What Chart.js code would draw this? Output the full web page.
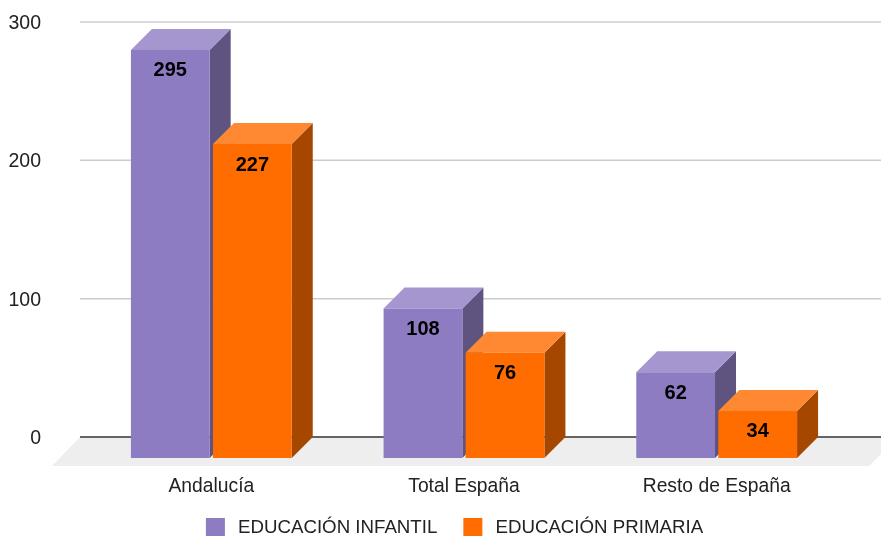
<!DOCTYPE html>
<html>
<head>
<meta charset="utf-8">
<title>Educación</title>
<style>
  html, body { margin: 0; padding: 0; background: #fff; }
  canvas { display: block; }
</style>
<script src="https://cdn.jsdelivr.net/npm/chart.js@4"></script>
</head>
<body>
<canvas id="chart" width="881" height="536"></canvas>
<script>
  const categories = ['Andalucía', 'Total España', 'Resto de España'];
  const infantil = [295, 108, 62];
  const primaria = [227, 76, 34];
  const yTicks = [0, 100, 200, 300];

  const DEPTH = 21; // how far the back of each bar sits from its front
  const font = 'Liberation Sans, Arial, sans-serif';

  // Side and top colours of the 3D boxes, front colour comes from the dataset
  const faces = {
    '#8e7cc3': { top: '#a596cf', side: '#5f5380' },
    '#ff6d01': { top: '#ff8833', side: '#a64700' }
  };

  function fillPoly(ctx, color, pts) {
    ctx.fillStyle = color;
    ctx.beginPath();
    pts.forEach((p, i) => i ? ctx.lineTo(p[0], p[1]) : ctx.moveTo(p[0], p[1]));
    ctx.closePath();
    ctx.fill();
  }

  // Floor, grid lines and the box faces, all behind the bar fronts
  const backdrop = {
    id: 'backdrop',
    afterLayout(chart) {
      // the legend sits right of centre and hard against the bottom edge
      chart.legend.left += 33;
      chart.legend.right += 33;
      chart.legend.top -= 6;
      chart.legend.bottom -= 6;
    },
    beforeDatasetsDraw(chart) {
      const ctx = chart.ctx;
      const y = chart.scales.y;
      const floorTop = y.getPixelForValue(0);
      const floorBottom = chart.chartArea.bottom + 8;
      const left = 80, right = chart.width;

      ctx.save();
      fillPoly(ctx, '#eeeeee', [
        [left, floorTop], [right + 17, floorTop],
        [right - 12, floorBottom], [left - 28, floorBottom]
      ]);

      yTicks.forEach(v => {
        const py = y.getPixelForValue(v);
        ctx.strokeStyle = v === 0 ? '#333333' : '#cccccc';
        ctx.lineWidth = 1.5;
        ctx.beginPath();
        ctx.moveTo(left, py);
        ctx.lineTo(right, py);
        ctx.stroke();
      });

      chart.data.datasets.forEach((ds, i) => {
        const colors = faces[ds.backgroundColor];
        chart.getDatasetMeta(i).data.forEach(bar => {
          const x0 = bar.x - bar.width / 2;
          const x1 = bar.x + bar.width / 2;
          fillPoly(ctx, colors.side, [
            [x1, bar.y], [x1 + DEPTH, bar.y - DEPTH],
            [x1 + DEPTH, bar.base - DEPTH], [x1, bar.base]
          ]);
          fillPoly(ctx, colors.top, [
            [x0, bar.y], [x0 + DEPTH, bar.y - DEPTH],
            [x1 + DEPTH, bar.y - DEPTH], [x1, bar.y]
          ]);
        });
      });
      ctx.restore();
    },
    afterDatasetsDraw(chart) {
      const ctx = chart.ctx;
      ctx.save();
      ctx.font = 'bold 20px ' + font;
      ctx.fillStyle = '#000000';
      ctx.textAlign = 'center';
      ctx.textBaseline = 'middle';
      chart.data.datasets.forEach((ds, i) => {
        chart.getDatasetMeta(i).data.forEach((bar, j) => {
          ctx.fillText(ds.data[j], bar.x, bar.y + 21);
        });
      });
      ctx.restore();
    }
  };

  new Chart(document.getElementById('chart'), {
    type: 'bar',
    data: {
      labels: categories,
      datasets: [
        { label: 'EDUCACIÓN INFANTIL', data: infantil, backgroundColor: '#8e7cc3', yAxisID: 'front' },
        { label: 'EDUCACIÓN PRIMARIA', data: primaria, backgroundColor: '#ff6d01', yAxisID: 'front' }
      ]
    },
    plugins: [backdrop],
    options: {
      responsive: false,
      animation: false,
      categoryPercentage: 0.6495,
      barPercentage: 0.96,
      layout: { padding: { top: 22, right: 38, bottom: -17, left: 0 } },
      scales: {
        x: {
          grid: { display: false },
          border: { display: false },
          ticks: { color: '#222222', padding: 9, font: { family: font, size: 19.3 } },
          afterFit: scale => { scale.height = 40; scale.paddingLeft = scale.paddingRight = 0; }
        },
        // labelled axis, on the back wall of the chart
        y: {
          position: 'left',
          min: -15.2,
          max: 300,
          grid: { display: false },
          border: { display: false },
          ticks: { color: '#222222', padding: 36, labelOffset: 1.5, font: { family: font, size: 19.5 } },
          afterBuildTicks: scale => { scale.ticks = yTicks.map(value => ({ value })); },
          afterFit: scale => {
            scale.width = 85;
            scale.paddingTop = scale.paddingBottom = 0;
          }
        },
        // same px per unit as y, but the bars stand 21px further forward
        front: {
          display: false,
          min: 0,
          max: 315.2
        }
      },
      plugins: {
        tooltip: { enabled: false },
        legend: {
          position: 'bottom',
          labels: {
            color: '#222222',
            boxWidth: 19,
            boxHeight: 19,
            padding: 26,
            font: { family: font, size: 18.7 },
            // thin space widens the gap between swatch and text
            generateLabels: chart => Chart.defaults.plugins.legend.labels.generateLabels(chart)
              .map(item => ({ ...item, text: '\u2009' + item.text }))
          }
        }
      }
    }
  });
</script>
</body>
</html>
